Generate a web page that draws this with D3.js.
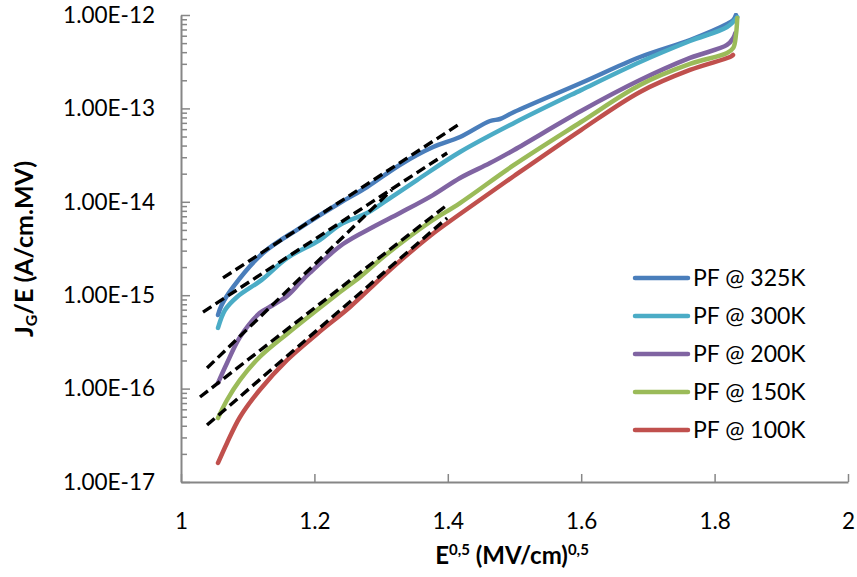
<!DOCTYPE html>
<html>
<head>
<meta charset="utf-8">
<script src="https://cdn.jsdelivr.net/npm/d3@7"></script>
<style>
  html, body { margin: 0; padding: 0; background: #fff; }
  svg { display: block; }
  text { font-family: Lato, "Liberation Sans", sans-serif; fill: #000; }
</style>
</head>
<body>
<svg id="chart" width="857" height="577"></svg>
<script>
// ---------- data ----------
const seriesNames = ["PF @ 325K", "PF @ 300K", "PF @ 200K", "PF @ 150K", "PF @ 100K"];
const seriesColors = ["#4A7EBB", "#4BACC6", "#8064A2", "#9BBB59", "#C0504D"];

const x325 = [1.0555, 1.061, 1.078, 1.123, 1.178, 1.238, 1.279, 1.328, 1.378, 1.4183, 1.4633, 1.4783, 1.4993, 1.5997, 1.6882, 1.7631, 1.8186, 1.828, 1.832];
const y325 = [6.14e-16, 7.85e-16, 1.22e-15, 2.83e-15, 5.24e-15, 9.70e-15, 1.44e-14, 2.48e-14, 3.86e-14, 4.94e-14, 7.33e-14, 7.70e-14, 9.15e-14, 1.87e-13, 3.55e-13, 5.40e-13, 8.01e-13, 8.84e-13, 1.0e-12];

const x300 = [1.0555, 1.066, 1.084, 1.121, 1.159, 1.208, 1.238, 1.279, 1.309, 1.3538, 1.4183, 1.4993, 1.5997, 1.6882, 1.7631, 1.8186, 1.834];
const y300 = [4.46e-16, 6.95e-16, 9.57e-16, 1.46e-15, 2.50e-15, 3.90e-15, 5.65e-15, 7.6e-15, 1.045e-14, 1.71e-14, 3.41e-14, 6.98e-14, 1.57e-13, 3.14e-13, 5.27e-13, 7.44e-13, 9.5e-13];

const x200 = [1.0555, 1.069, 1.0885, 1.118, 1.138, 1.159, 1.178, 1.193, 1.2429, 1.2879, 1.3283, 1.3778, 1.4183, 1.4633, 1.4993, 1.5997, 1.6882, 1.7631, 1.8186, 1.828, 1.831];
const y200 = [1.15e-16, 1.88e-16, 3.56e-16, 6.44e-16, 7.85e-16, 9.8e-16, 1.35e-15, 1.73e-15, 3.53e-15, 5.37e-15, 7.59e-15, 1.18e-14, 1.80e-14, 2.60e-14, 3.59e-14, 9.37e-14, 2.01e-13, 3.47e-13, 4.78e-13, 5.68e-13, 6.41e-13];

const x150 = [1.0555, 1.069, 1.0885, 1.118, 1.1589, 1.2039, 1.2384, 1.2684, 1.3088, 1.3733, 1.4183, 1.4993, 1.5997, 1.6882, 1.7631, 1.8186, 1.828, 1.832, 1.834];
const y150 = [4.84e-17, 7.55e-17, 1.24e-16, 2.18e-16, 3.85e-16, 6.95e-16, 1.08e-15, 1.57e-15, 2.76e-15, 6.08e-15, 9.70e-15, 2.48e-14, 7.15e-14, 1.78e-13, 2.99e-13, 3.92e-13, 4.44e-13, 6.1e-13, 9.29e-13];

const x100 = [1.0555, 1.069, 1.0885, 1.118, 1.1589, 1.2039, 1.2534, 1.2984, 1.3283, 1.3733, 1.4183, 1.4993, 1.5997, 1.6882, 1.7631, 1.8231, 1.8276];
const y100 = [1.60e-17, 2.62e-17, 4.97e-17, 9.66e-17, 2.02e-16, 3.85e-16, 7.48e-16, 1.49e-15, 2.32e-15, 4.31e-15, 7.40e-15, 1.89e-14, 5.87e-14, 1.50e-13, 2.58e-13, 3.55e-13, 3.73e-13];

// Poole-Frenkel linear fits (dashed), start and end points
const fitX1 = [1.063, 1.415], fitY1 = [1.53e-15, 6.63e-14];
const fitX2 = [1.033, 1.399], fitY2 = [6.6e-16, 3.33e-14];
const fitX3 = [1.039, 1.316], fitY3 = [1.66e-16, 1.34e-14];
const fitX4 = [1.0285, 1.399], fitY4 = [8.13e-17, 9.25e-15];
const fitX5 = [1.039, 1.399], fitY5 = [4.07e-17, 6.71e-15];

const xTickValues = [1, 1.2, 1.4, 1.6, 1.8, 2];
const yTickValues = [1e-17, 1e-16, 1e-15, 1e-14, 1e-13, 1e-12];

// ---------- build ----------
const seriesX = [x325, x300, x200, x150, x100];
const seriesY = [y325, y300, y200, y150, y100];
const series = seriesNames.map((name, i) => ({
  name, color: seriesColors[i],
  points: seriesX[i].map((xv, j) => [xv, seriesY[i][j]])
}));
const fits = [[fitX1, fitY1], [fitX2, fitY2], [fitX3, fitY3], [fitX4, fitY4], [fitX5, fitY5]]
  .map(([fx, fy]) => fx.map((xv, j) => [xv, fy[j]]));

const svg = d3.select("#chart");
const L = 181, R = 848, T = 15, B = 482;
const x = d3.scaleLinear().domain([1, 2]).range([L, R]);
const y = d3.scaleLog().domain([1e-17, 1e-12]).range([B, T]);

const axisColor = "#868686";

const minors = [];
for (let e = -17; e < -12; e++) for (let m = 2; m <= 9; m++) minors.push(m * Math.pow(10, e));

svg.append("g").attr("transform", `translate(${L},0)`)
  .call(d3.axisLeft(y).tickValues(minors).tickSize(-6).tickFormat(""))
  .call(g => g.select(".domain").remove())
  .call(g => g.selectAll("line").attr("stroke", axisColor).attr("stroke-width", 1.5));

const yAxis = svg.append("g").attr("transform", `translate(${L},0)`)
  .call(d3.axisLeft(y).tickValues(yTickValues).tickSize(-9).tickSizeOuter(0).tickPadding(26)
    .tickFormat(d => d.toExponential(2).toUpperCase()));
yAxis.select(".domain").attr("stroke", axisColor).attr("stroke-width", 2);
yAxis.selectAll("line").attr("stroke", axisColor).attr("stroke-width", 1.5);
yAxis.selectAll("text").attr("font-size", 22.5).attr("font-family", "Lato, 'Liberation Sans', sans-serif").attr("fill", "#000");

const xAxis = svg.append("g").attr("transform", `translate(0,${B})`)
  .call(d3.axisBottom(x).tickValues(xTickValues).tickSize(-8).tickSizeOuter(0).tickPadding(31)
    .tickFormat(d => String(d)));
xAxis.select(".domain").attr("stroke", axisColor).attr("stroke-width", 2);
xAxis.selectAll("line").attr("stroke", axisColor).attr("stroke-width", 1.5);
xAxis.selectAll("text").attr("font-size", 22.5).attr("font-family", "Lato, 'Liberation Sans', sans-serif").attr("fill", "#000");

svg.append("clipPath").attr("id", "plotclip").append("rect")
  .attr("x", L).attr("y", T - 2).attr("width", R - L).attr("height", B - T + 2);

const line = d3.line().x(d => x(d[0])).y(d => y(d[1])).curve(d3.curveCatmullRom.alpha(0.5));
const plot = svg.append("g").attr("clip-path", "url(#plotclip)");

plot.selectAll("path.series").data(series).join("path")
  .attr("class", "series")
  .attr("d", d => line(d.points))
  .attr("fill", "none")
  .attr("stroke", d => d.color)
  .attr("stroke-width", 4.5)
  .attr("stroke-linecap", "round")
  .attr("stroke-linejoin", "round");

const straight = d3.line().x(d => x(d[0])).y(d => y(d[1]));
plot.selectAll("path.fit").data(fits).join("path")
  .attr("class", "fit")
  .attr("d", d => straight(d))
  .attr("fill", "none")
  .attr("stroke", "#000")
  .attr("stroke-width", 3.4)
  .attr("stroke-dasharray", "10,5");

const legend = svg.append("g");
series.forEach((s, i) => {
  const ly = 278 + i * 38;
  legend.append("line").attr("x1", 635).attr("x2", 688).attr("y1", ly).attr("y2", ly)
    .attr("stroke", s.color).attr("stroke-width", 4.5).attr("stroke-linecap", "round");
  legend.append("text").attr("x", 693).attr("y", ly).attr("dy", "0.35em")
    .attr("font-size", 23).text(s.name);
});

const yt = svg.append("text")
  .attr("transform", "translate(33,249) rotate(-90)")
  .attr("text-anchor", "middle").attr("font-size", 25).attr("font-weight", "bold");
yt.append("tspan").text("J");
yt.append("tspan").attr("font-size", 16).attr("dy", 4).text("G");
yt.append("tspan").attr("dy", -4).text("/E (A/cm.MV)");

const xt = svg.append("text")
  .attr("x", 512).attr("y", 564)
  .attr("text-anchor", "middle").attr("font-size", 24).attr("font-weight", "bold");
xt.append("tspan").text("E");
xt.append("tspan").attr("font-size", 15).attr("dy", -9).text("0,5");
xt.append("tspan").attr("dy", 9).text(" (MV/cm)");
xt.append("tspan").attr("font-size", 15).attr("dy", -9).text("0,5");
</script>
</body>
</html>
